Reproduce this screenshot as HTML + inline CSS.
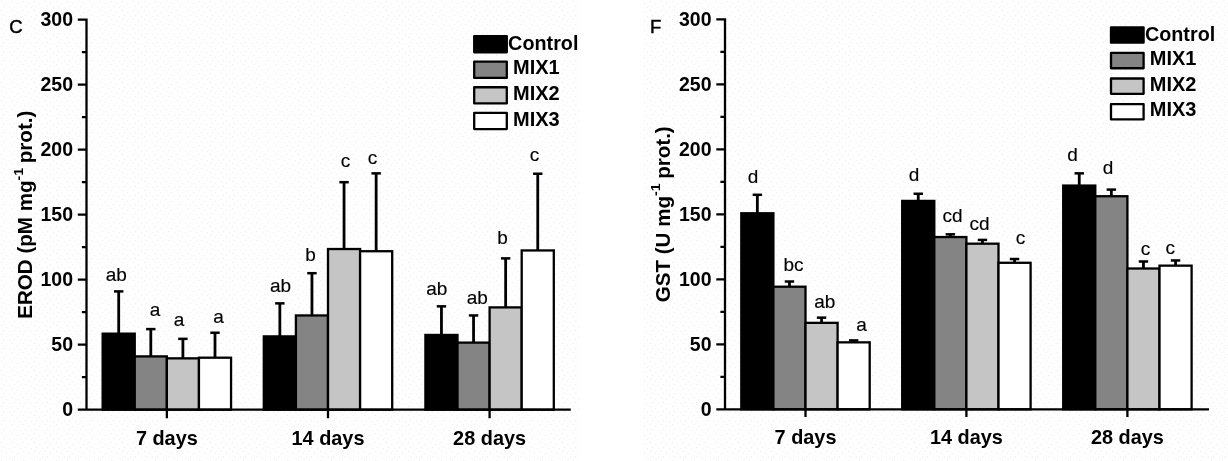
<!DOCTYPE html>
<html lang="en"><head><meta charset="utf-8"><title>EROD and GST activity</title>
<style>
html,body{margin:0;padding:0;background:#fff;}
body{width:1228px;height:461px;overflow:hidden;}
svg{display:block;}
text{font-family:"Liberation Sans", Arial, Helvetica, sans-serif;fill:#000;}
.b{font-weight:700;font-size:19.5px;}
.r{font-weight:400;font-size:19px;stroke:#000;stroke-width:0.15px;}
.p{font-weight:400;font-size:18.5px;stroke:#000;stroke-width:0.45px;}
.sup{font-size:13.5px;}
</style></head><body>
<svg width="1228" height="461" viewBox="0 0 1228 461">
<defs><pattern id="dots" width="11" height="9" patternUnits="userSpaceOnUse">
<rect width="11" height="9" fill="#fefefe"/>
<rect x="1" y="1" width="1" height="1" fill="#eeeef8"/><rect x="6" y="3" width="1" height="1" fill="#f0f0f9"/>
<rect x="3" y="6" width="1" height="1" fill="#eeeef8"/><rect x="9" y="7" width="1" height="1" fill="#f1f1f9"/>
</pattern></defs>
<rect width="1228" height="461" fill="#fff"/>
<rect x="0" y="0" width="579" height="461" fill="url(#dots)"/>
<rect x="642" y="0" width="586" height="461" fill="url(#dots)"/>
<path d="M118.70 333.65V291.40" stroke="#000" stroke-width="2.8" fill="none"/><path d="M114.00 291.40H123.40" stroke="#000" stroke-width="2.5" fill="none"/>
<rect x="102.65" y="333.65" width="32.10" height="76.05" fill="#000000" stroke="#000" stroke-width="2.3"/>
<path d="M150.80 356.40V329.10" stroke="#000" stroke-width="2.8" fill="none"/><path d="M146.10 329.10H155.50" stroke="#000" stroke-width="2.5" fill="none"/>
<rect x="134.75" y="356.40" width="32.10" height="53.30" fill="#848484" stroke="#000" stroke-width="2.3"/>
<path d="M182.90 358.35V338.85" stroke="#000" stroke-width="2.8" fill="none"/><path d="M178.20 338.85H187.60" stroke="#000" stroke-width="2.5" fill="none"/>
<rect x="166.85" y="358.35" width="32.10" height="51.35" fill="#c5c5c5" stroke="#000" stroke-width="2.3"/>
<path d="M215.00 357.70V332.74" stroke="#000" stroke-width="2.8" fill="none"/><path d="M210.30 332.74H219.70" stroke="#000" stroke-width="2.5" fill="none"/>
<rect x="198.95" y="357.70" width="32.10" height="52.00" fill="#ffffff" stroke="#000" stroke-width="2.3"/>
<path d="M279.85 336.38V303.36" stroke="#000" stroke-width="2.8" fill="none"/><path d="M275.15 303.36H284.55" stroke="#000" stroke-width="2.5" fill="none"/>
<rect x="263.80" y="336.38" width="32.10" height="73.32" fill="#000000" stroke="#000" stroke-width="2.3"/>
<path d="M311.95 315.45V273.20" stroke="#000" stroke-width="2.8" fill="none"/><path d="M307.25 273.20H316.65" stroke="#000" stroke-width="2.5" fill="none"/>
<rect x="295.90" y="315.45" width="32.10" height="94.25" fill="#848484" stroke="#000" stroke-width="2.3"/>
<path d="M344.05 249.02V182.20" stroke="#000" stroke-width="2.8" fill="none"/><path d="M339.35 182.20H348.75" stroke="#000" stroke-width="2.5" fill="none"/>
<rect x="328.00" y="249.02" width="32.10" height="160.68" fill="#c5c5c5" stroke="#000" stroke-width="2.3"/>
<path d="M376.15 251.23V173.36" stroke="#000" stroke-width="2.8" fill="none"/><path d="M371.45 173.36H380.85" stroke="#000" stroke-width="2.5" fill="none"/>
<rect x="360.10" y="251.23" width="32.10" height="158.47" fill="#ffffff" stroke="#000" stroke-width="2.3"/>
<path d="M441.45 334.95V306.35" stroke="#000" stroke-width="2.8" fill="none"/><path d="M436.75 306.35H446.15" stroke="#000" stroke-width="2.5" fill="none"/>
<rect x="425.40" y="334.95" width="32.10" height="74.75" fill="#000000" stroke="#000" stroke-width="2.3"/>
<path d="M473.55 342.62V315.45" stroke="#000" stroke-width="2.8" fill="none"/><path d="M468.85 315.45H478.25" stroke="#000" stroke-width="2.5" fill="none"/>
<rect x="457.50" y="342.62" width="32.10" height="67.08" fill="#848484" stroke="#000" stroke-width="2.3"/>
<path d="M505.65 307.39V258.38" stroke="#000" stroke-width="2.8" fill="none"/><path d="M500.95 258.38H510.35" stroke="#000" stroke-width="2.5" fill="none"/>
<rect x="489.60" y="307.39" width="32.10" height="102.31" fill="#c5c5c5" stroke="#000" stroke-width="2.3"/>
<path d="M537.75 250.45V173.75" stroke="#000" stroke-width="2.8" fill="none"/><path d="M533.05 173.75H542.45" stroke="#000" stroke-width="2.5" fill="none"/>
<rect x="521.70" y="250.45" width="32.10" height="159.25" fill="#ffffff" stroke="#000" stroke-width="2.3"/>
<path d="M86.50 18.55V410.85M85.35 409.70H570.80M77.80 409.70H86.50M81.90 377.20H86.50M77.80 344.70H86.50M81.90 312.20H86.50M77.80 279.70H86.50M81.90 247.20H86.50M77.80 214.70H86.50M81.90 182.20H86.50M77.80 149.70H86.50M81.90 117.20H86.50M77.80 84.70H86.50M81.90 52.20H86.50M77.80 19.70H86.50M166.85 409.70V418.30M328.00 409.70V418.30M489.60 409.70V418.30" stroke="#000" stroke-width="2.3" fill="none"/>
<text transform="translate(73.00 415.90) scale(1 1.05)" text-anchor="end" class="b">0</text>
<text transform="translate(73.00 350.90) scale(1 1.05)" text-anchor="end" class="b">50</text>
<text transform="translate(73.00 285.90) scale(1 1.05)" text-anchor="end" class="b">100</text>
<text transform="translate(73.00 220.90) scale(1 1.05)" text-anchor="end" class="b">150</text>
<text transform="translate(73.00 155.90) scale(1 1.05)" text-anchor="end" class="b">200</text>
<text transform="translate(73.00 90.90) scale(1 1.05)" text-anchor="end" class="b">250</text>
<text transform="translate(73.00 25.90) scale(1 1.05)" text-anchor="end" class="b">300</text>
<text transform="translate(166.85 444.60) scale(1.02 1.05)" text-anchor="middle" class="b">7 days</text>
<text transform="translate(328.00 444.60) scale(1.02 1.05)" text-anchor="middle" class="b">14 days</text>
<text transform="translate(489.60 444.60) scale(1.02 1.05)" text-anchor="middle" class="b">28 days</text>
<text x="116.30" y="281.00" text-anchor="middle" class="r">ab</text>
<text x="155.00" y="316.00" text-anchor="middle" class="r">a</text>
<text x="179.00" y="326.00" text-anchor="middle" class="r">a</text>
<text x="218.50" y="323.00" text-anchor="middle" class="r">a</text>
<text x="280.50" y="292.00" text-anchor="middle" class="r">ab</text>
<text x="310.50" y="261.00" text-anchor="middle" class="r">b</text>
<text x="345.50" y="166.90" text-anchor="middle" class="r">c</text>
<text x="372.50" y="163.70" text-anchor="middle" class="r">c</text>
<text x="436.70" y="295.00" text-anchor="middle" class="r">ab</text>
<text x="477.30" y="303.50" text-anchor="middle" class="r">ab</text>
<text x="502.50" y="244.00" text-anchor="middle" class="r">b</text>
<text x="534.50" y="161.00" text-anchor="middle" class="r">c</text>
<text x="9.3" y="33" class="p">C</text>
<text transform="translate(31.8 214.70) scale(1 1.056) rotate(-90)" text-anchor="middle" class="b">EROD (pM mg<tspan class="sup" dy="-9.3">-1</tspan><tspan dy="9.3" dx="-1.2"> prot.)</tspan></text>
<rect x="474.20" y="36.10" width="32.6" height="16.2" fill="#000000" stroke="#000" stroke-width="2.3" stroke-linejoin="round"/>
<text transform="translate(508.10 49.70) scale(1.015 1.05)" class="b">Control</text>
<rect x="474.20" y="61.68" width="32.6" height="16.2" fill="#848484" stroke="#000" stroke-width="2.3" stroke-linejoin="round"/>
<text transform="translate(513.00 74.38) scale(1.025 1.05)" class="b">MIX1</text>
<rect x="474.20" y="87.26" width="32.6" height="16.2" fill="#c5c5c5" stroke="#000" stroke-width="2.3" stroke-linejoin="round"/>
<text transform="translate(513.00 99.96) scale(1.025 1.05)" class="b">MIX2</text>
<rect x="474.20" y="112.84" width="32.6" height="16.2" fill="#ffffff" stroke="#000" stroke-width="2.3" stroke-linejoin="round"/>
<text transform="translate(513.00 125.54) scale(1.025 1.05)" class="b">MIX3</text>
<path d="M757.35 213.26V194.80" stroke="#000" stroke-width="2.8" fill="none"/><path d="M752.65 194.80H762.05" stroke="#000" stroke-width="2.5" fill="none"/>
<rect x="741.30" y="213.26" width="32.10" height="196.04" fill="#000000" stroke="#000" stroke-width="2.3"/>
<path d="M789.45 286.71V281.51" stroke="#000" stroke-width="2.8" fill="none"/><path d="M784.75 281.51H794.15" stroke="#000" stroke-width="2.5" fill="none"/>
<rect x="773.40" y="286.71" width="32.10" height="122.59" fill="#848484" stroke="#000" stroke-width="2.3"/>
<path d="M821.55 322.85V317.65" stroke="#000" stroke-width="2.8" fill="none"/><path d="M816.85 317.65H826.25" stroke="#000" stroke-width="2.5" fill="none"/>
<rect x="805.50" y="322.85" width="32.10" height="86.45" fill="#c5c5c5" stroke="#000" stroke-width="2.3"/>
<path d="M853.65 342.35V340.40" stroke="#000" stroke-width="2.8" fill="none"/><path d="M848.95 340.40H858.35" stroke="#000" stroke-width="2.5" fill="none"/>
<rect x="837.60" y="342.35" width="32.10" height="66.95" fill="#ffffff" stroke="#000" stroke-width="2.3"/>
<path d="M918.25 200.91V193.76" stroke="#000" stroke-width="2.8" fill="none"/><path d="M913.55 193.76H922.95" stroke="#000" stroke-width="2.5" fill="none"/>
<rect x="902.20" y="200.91" width="32.10" height="208.39" fill="#000000" stroke="#000" stroke-width="2.3"/>
<path d="M950.35 237.05V234.32" stroke="#000" stroke-width="2.8" fill="none"/><path d="M945.65 234.32H955.05" stroke="#000" stroke-width="2.5" fill="none"/>
<rect x="934.30" y="237.05" width="32.10" height="172.25" fill="#848484" stroke="#000" stroke-width="2.3"/>
<path d="M982.45 243.68V239.91" stroke="#000" stroke-width="2.8" fill="none"/><path d="M977.75 239.91H987.15" stroke="#000" stroke-width="2.5" fill="none"/>
<rect x="966.40" y="243.68" width="32.10" height="165.62" fill="#c5c5c5" stroke="#000" stroke-width="2.3"/>
<path d="M1014.55 262.79V259.02" stroke="#000" stroke-width="2.8" fill="none"/><path d="M1009.85 259.02H1019.25" stroke="#000" stroke-width="2.5" fill="none"/>
<rect x="998.50" y="262.79" width="32.10" height="146.51" fill="#ffffff" stroke="#000" stroke-width="2.3"/>
<path d="M1079.25 185.57V173.35" stroke="#000" stroke-width="2.8" fill="none"/><path d="M1074.55 173.35H1083.95" stroke="#000" stroke-width="2.5" fill="none"/>
<rect x="1063.20" y="185.57" width="32.10" height="223.73" fill="#000000" stroke="#000" stroke-width="2.3"/>
<path d="M1111.35 196.23V189.60" stroke="#000" stroke-width="2.8" fill="none"/><path d="M1106.65 189.60H1116.05" stroke="#000" stroke-width="2.5" fill="none"/>
<rect x="1095.30" y="196.23" width="32.10" height="213.07" fill="#848484" stroke="#000" stroke-width="2.3"/>
<path d="M1143.45 268.51V261.49" stroke="#000" stroke-width="2.8" fill="none"/><path d="M1138.75 261.49H1148.15" stroke="#000" stroke-width="2.5" fill="none"/>
<rect x="1127.40" y="268.51" width="32.10" height="140.79" fill="#c5c5c5" stroke="#000" stroke-width="2.3"/>
<path d="M1175.55 265.65V260.45" stroke="#000" stroke-width="2.8" fill="none"/><path d="M1170.85 260.45H1180.25" stroke="#000" stroke-width="2.5" fill="none"/>
<rect x="1159.50" y="265.65" width="32.10" height="143.65" fill="#ffffff" stroke="#000" stroke-width="2.3"/>
<path d="M725.00 18.15V410.45M723.85 409.30H1209.00M716.30 409.30H725.00M720.40 376.80H725.00M716.30 344.30H725.00M720.40 311.80H725.00M716.30 279.30H725.00M720.40 246.80H725.00M716.30 214.30H725.00M720.40 181.80H725.00M716.30 149.30H725.00M720.40 116.80H725.00M716.30 84.30H725.00M720.40 51.80H725.00M716.30 19.30H725.00M805.50 409.30V417.10M966.40 409.30V417.10M1127.40 409.30V417.10" stroke="#000" stroke-width="2.3" fill="none"/>
<text transform="translate(711.50 415.50) scale(1 1.05)" text-anchor="end" class="b">0</text>
<text transform="translate(711.50 350.50) scale(1 1.05)" text-anchor="end" class="b">50</text>
<text transform="translate(711.50 285.50) scale(1 1.05)" text-anchor="end" class="b">100</text>
<text transform="translate(711.50 220.50) scale(1 1.05)" text-anchor="end" class="b">150</text>
<text transform="translate(711.50 155.50) scale(1 1.05)" text-anchor="end" class="b">200</text>
<text transform="translate(711.50 90.50) scale(1 1.05)" text-anchor="end" class="b">250</text>
<text transform="translate(711.50 25.50) scale(1 1.05)" text-anchor="end" class="b">300</text>
<text transform="translate(805.50 444.20) scale(1.02 1.05)" text-anchor="middle" class="b">7 days</text>
<text transform="translate(966.40 444.20) scale(1.02 1.05)" text-anchor="middle" class="b">14 days</text>
<text transform="translate(1127.40 444.20) scale(1.02 1.05)" text-anchor="middle" class="b">28 days</text>
<text x="753.00" y="182.50" text-anchor="middle" class="r">d</text>
<text x="793.50" y="271.40" text-anchor="middle" class="r">bc</text>
<text x="824.70" y="308.00" text-anchor="middle" class="r">ab</text>
<text x="861.50" y="331.00" text-anchor="middle" class="r">a</text>
<text x="914.00" y="181.00" text-anchor="middle" class="r">d</text>
<text x="952.50" y="221.70" text-anchor="middle" class="r">cd</text>
<text x="979.50" y="230.10" text-anchor="middle" class="r">cd</text>
<text x="1020.60" y="244.00" text-anchor="middle" class="r">c</text>
<text x="1072.50" y="161.00" text-anchor="middle" class="r">d</text>
<text x="1108.00" y="173.50" text-anchor="middle" class="r">d</text>
<text x="1145.50" y="255.00" text-anchor="middle" class="r">c</text>
<text x="1170.20" y="254.00" text-anchor="middle" class="r">c</text>
<text x="650" y="32.5" class="p">F</text>
<text transform="translate(669.7 214.30) scale(1 1.056) rotate(-90)" text-anchor="middle" class="b">GST (U mg<tspan class="sup" dy="-9.3">-1</tspan><tspan dy="9.3" dx="-1.2"> prot.)</tspan></text>
<rect x="1111.00" y="27.35" width="32.6" height="15.3" fill="#000000" stroke="#000" stroke-width="2.3" stroke-linejoin="round"/>
<text transform="translate(1144.90 40.50) scale(1.015 1.05)" class="b">Control</text>
<rect x="1111.00" y="52.93" width="32.6" height="15.3" fill="#848484" stroke="#000" stroke-width="2.3" stroke-linejoin="round"/>
<text transform="translate(1149.80 65.18) scale(1.025 1.05)" class="b">MIX1</text>
<rect x="1111.00" y="78.51" width="32.6" height="15.3" fill="#c5c5c5" stroke="#000" stroke-width="2.3" stroke-linejoin="round"/>
<text transform="translate(1149.80 90.76) scale(1.025 1.05)" class="b">MIX2</text>
<rect x="1111.00" y="104.09" width="32.6" height="15.3" fill="#ffffff" stroke="#000" stroke-width="2.3" stroke-linejoin="round"/>
<text transform="translate(1149.80 116.34) scale(1.025 1.05)" class="b">MIX3</text>
</svg>
</body></html>
